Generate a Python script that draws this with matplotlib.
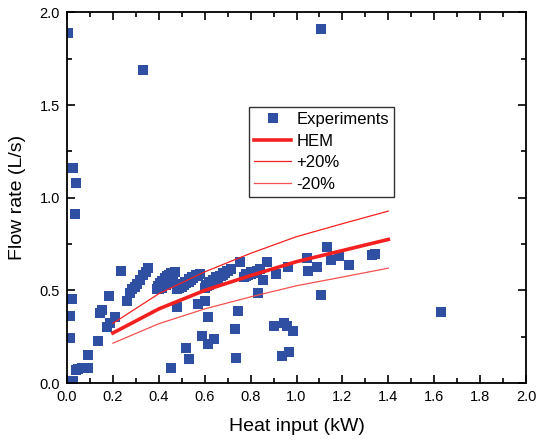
import numpy as np
import matplotlib
matplotlib.use("Agg")
import matplotlib.pyplot as plt
from matplotlib.ticker import MultipleLocator, FormatStrFormatter

plt.rcParams['font.family'] = ['Liberation Sans', 'DejaVu Sans']

# experimental points (heat input kW, flow rate L/s)
exp_x = [0.005, 0.33, 1.105, 0.025, 0.04, 0.035, 0.02, 0.015, 0.015, 0.005, 0.025,
         0.04, 0.05, 0.065, 0.08, 0.09, 0.09, 0.137, 0.144, 0.154, 0.183, 0.173, 0.187,
         0.209, 0.234, 0.26, 0.275, 0.285, 0.296, 0.305, 0.318, 0.333, 0.345, 0.355,
         0.39, 0.40, 0.41, 0.42, 0.43, 0.44, 0.45, 0.46, 0.47, 0.395, 0.405, 0.415,
         0.425, 0.435, 0.445, 0.455, 0.40, 0.415, 0.43, 0.445, 0.46,
         0.48, 0.49, 0.50, 0.51, 0.52, 0.53, 0.54, 0.55, 0.56, 0.57, 0.58,
         0.485, 0.50, 0.515, 0.53, 0.545, 0.56,
         0.60, 0.61, 0.62, 0.63, 0.64, 0.65, 0.66, 0.67, 0.68, 0.69, 0.70, 0.715,
         0.605, 0.62, 0.635, 0.65, 0.665, 0.68, 0.695,
         0.77, 0.78, 0.79, 0.80, 0.81, 0.82, 0.83, 0.84, 0.78, 0.80,
         0.754, 0.87, 0.855, 0.834, 0.909, 0.964, 1.044, 1.049, 1.088, 1.105, 1.131,
         1.15, 1.186, 1.23, 1.33, 1.34, 1.628,
         0.478, 0.52, 0.533, 0.452, 0.57, 0.60, 0.616, 0.59, 0.616, 0.64, 0.732,
         0.746, 0.735, 0.90, 0.946, 0.957, 0.986, 0.935, 0.969]
exp_y = [1.89, 1.69, 1.91, 1.16, 1.08, 0.915, 0.455, 0.36, 0.245, 0.005, 0.01,
         0.07, 0.075, 0.08, 0.08, 0.08, 0.15, 0.228, 0.38, 0.394, 0.471, 0.304, 0.322,
         0.358, 0.606, 0.445, 0.485, 0.505, 0.52, 0.535, 0.556, 0.583, 0.60, 0.62,
         0.51, 0.52, 0.53, 0.545, 0.555, 0.57, 0.58, 0.59, 0.60, 0.525, 0.54, 0.55,
         0.565, 0.575, 0.585, 0.595, 0.505, 0.515, 0.53, 0.545, 0.56,
         0.505, 0.515, 0.52, 0.53, 0.54, 0.545, 0.555, 0.565, 0.575, 0.58, 0.59,
         0.52, 0.535, 0.545, 0.56, 0.57, 0.585,
         0.515, 0.525, 0.53, 0.54, 0.55, 0.555, 0.565, 0.575, 0.585, 0.595, 0.605, 0.615,
         0.53, 0.545, 0.555, 0.57, 0.58, 0.595, 0.605,
         0.57, 0.575, 0.585, 0.59, 0.595, 0.60, 0.605, 0.615, 0.59, 0.60,
         0.655, 0.655, 0.556, 0.484, 0.59, 0.625, 0.676, 0.605, 0.626, 0.475, 0.732,
         0.664, 0.686, 0.637, 0.69, 0.695, 0.382,
         0.412, 0.19, 0.13, 0.079, 0.425, 0.445, 0.355, 0.254, 0.209, 0.236, 0.29,
         0.39, 0.133, 0.31, 0.326, 0.308, 0.283, 0.146, 0.169]

# HEM model and +/-20% bands
hem_x = [0.2, 0.4, 0.6, 0.8, 1.0, 1.2, 1.4]
hem_y = [0.27, 0.40, 0.50, 0.58, 0.655, 0.715, 0.775]
plus20_y = [0.322, 0.482, 0.60, 0.70, 0.79, 0.86, 0.928]
minus20_y = [0.215, 0.32, 0.40, 0.465, 0.525, 0.572, 0.62]

fig = plt.figure(figsize=(5.46, 4.4), dpi=100)
ax = fig.add_axes([0.1227, 0.1295, 0.8407, 0.8421])

ax.plot(exp_x, exp_y, 's', color='#2f4fa2', markersize=6.6, markeredgewidth=0,
        label='Experiments', zorder=2)
ax.plot(hem_x, hem_y, '-', color='#f42020', lw=2.6, label='HEM', zorder=3)
ax.plot(hem_x, plus20_y, '-', color='#f42020', lw=0.9, label='+20%', zorder=3)
ax.plot(hem_x, minus20_y, '-', color='#f45050', lw=0.9, label='-20%', zorder=3)

ax.set_xlim(0, 2.0)
ax.set_ylim(0, 2.0)
ax.xaxis.set_major_locator(MultipleLocator(0.2))
ax.xaxis.set_minor_locator(MultipleLocator(0.1))
ax.yaxis.set_major_locator(MultipleLocator(0.5))
ax.yaxis.set_minor_locator(MultipleLocator(0.25))
ax.xaxis.set_major_formatter(FormatStrFormatter('%.1f'))
ax.yaxis.set_major_formatter(FormatStrFormatter('%.1f'))
ax.tick_params(which='both', direction='in', top=True, right=True, width=1.2,
               labelsize=10.5, colors='black')
ax.tick_params(which='major', length=6, pad=5)
ax.tick_params(which='minor', length=3.5)
for s in ax.spines.values():
    s.set_linewidth(1.3)

ax.set_xlabel('Heat input (kW)', fontsize=14, labelpad=10)
ax.set_ylabel('Flow rate (L/s)', fontsize=14, labelpad=10)

leg = ax.legend(loc='upper left', bbox_to_anchor=(0.397, 0.745), borderaxespad=0,
                fontsize=12, frameon=True, fancybox=False, handlelength=2.2,
                handletextpad=0.35, labelspacing=0.4, borderpad=0.3)
leg.get_frame().set_edgecolor('black')
leg.get_frame().set_linewidth(1.0)

fig.savefig('out.png', dpi=100)
